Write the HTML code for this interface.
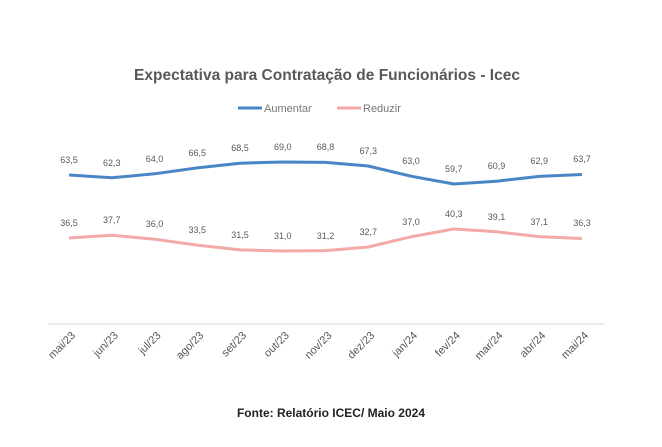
<!DOCTYPE html><html><head><meta charset="utf-8"><style>body{margin:0;background:#fff}</style></head><body>
<svg width="662" height="442" xmlns="http://www.w3.org/2000/svg" font-family="Liberation Sans, sans-serif">
<rect width="662" height="442" fill="#fff"/>
<text x="327" y="80" text-anchor="middle" font-size="15.5" font-weight="bold" fill="#595959">Expectativa para Contratação de Funcionários - Icec</text>
<line x1="238" y1="108" x2="262" y2="108" stroke="#4a86c5" stroke-width="3"/>
<text x="264" y="112" font-size="11" fill="#777">Aumentar</text>
<line x1="337" y1="108" x2="361" y2="108" stroke="#f4a9a8" stroke-width="3"/>
<text x="363" y="112" font-size="11" fill="#777">Reduzir</text>
<line x1="48" y1="324" x2="604" y2="324" stroke="#d9d9d9" stroke-width="1"/>
<polyline fill="none" stroke="#4a86c5" stroke-width="3" stroke-linejoin="round" points="69,175 111.75,177.8 154.5,173.8 197.25,167.9 240,163.2 282.75,162 325.5,162.4 368.25,166 411,176.2 453.75,184 496.5,181.2 539.25,176.4 582,174.5"/>
<polyline fill="none" stroke="#f4a9a8" stroke-width="3" stroke-linejoin="round" points="69,238 111.75,235.2 154.5,239.2 197.25,245.1 240,249.9 282.75,251 325.5,250.6 368.25,247 411,236.8 453.75,229 496.5,231.8 539.25,236.6 582,238.5"/>
<g font-size="9" fill="#595959" text-anchor="middle">
<text x="69" y="163">63,5</text><text x="111.75" y="166">62,3</text><text x="154.5" y="162">64,0</text><text x="197.25" y="156">66,5</text><text x="240" y="151">68,5</text><text x="282.75" y="150">69,0</text><text x="325.5" y="150">68,8</text><text x="368.25" y="154">67,3</text><text x="411" y="164">63,0</text><text x="453.75" y="172">59,7</text><text x="496.5" y="169">60,9</text><text x="539.25" y="164">62,9</text><text x="582" y="162">63,7</text>
<text x="69" y="226">36,5</text><text x="111.75" y="223">37,7</text><text x="154.5" y="227">36,0</text><text x="197.25" y="233">33,5</text><text x="240" y="238">31,5</text><text x="282.75" y="239">31,0</text><text x="325.5" y="239">31,2</text><text x="368.25" y="235">32,7</text><text x="411" y="225">37,0</text><text x="453.75" y="217">40,3</text><text x="496.5" y="220">39,1</text><text x="539.25" y="225">37,1</text><text x="582" y="226">36,3</text>
</g>
<g font-size="11" fill="#595959" text-anchor="end">
<text transform="translate(76,336) rotate(-45)">mai/23</text>
<text transform="translate(118.75,336) rotate(-45)">jun/23</text>
<text transform="translate(161.5,336) rotate(-45)">jul/23</text>
<text transform="translate(204.25,336) rotate(-45)">ago/23</text>
<text transform="translate(247,336) rotate(-45)">set/23</text>
<text transform="translate(289.75,336) rotate(-45)">out/23</text>
<text transform="translate(332.5,336) rotate(-45)">nov/23</text>
<text transform="translate(375.25,336) rotate(-45)">dez/23</text>
<text transform="translate(418,336) rotate(-45)">jan/24</text>
<text transform="translate(460.75,336) rotate(-45)">fev/24</text>
<text transform="translate(503.5,336) rotate(-45)">mar/24</text>
<text transform="translate(546.25,336) rotate(-45)">abr/24</text>
<text transform="translate(589,336) rotate(-45)">mai/24</text>
</g>
<text x="331" y="417" text-anchor="middle" font-size="12" font-weight="bold" fill="#222">Fonte: Relatório ICEC/ Maio 2024</text>
</svg></body></html>
